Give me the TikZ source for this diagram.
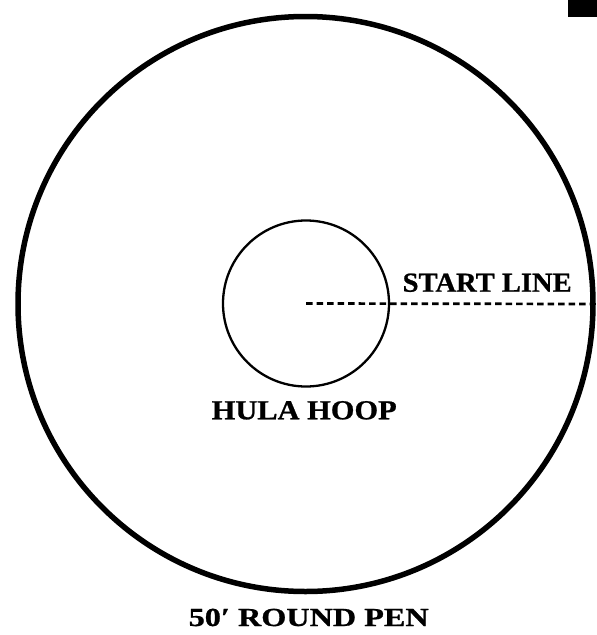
\documentclass[tikz,border=0pt]{standalone}
\usepackage{fontspec}
\setmainfont{Liberation Serif}[BoldFeatures={FakeBold=0.8}]
\begin{document}
\begin{tikzpicture}[x=1pt,y=-1pt,
  ring/.style={circle,draw=black,inner sep=0pt,outer sep=0pt},
  lbl/.style={inner sep=0pt,outer sep=0pt,anchor=base,font=\bfseries\fontsize{27.5}{30}\selectfont},
  startdash/.style={line width=2.7pt,dash pattern=on 6.5pt off 4pt}]
\useasboundingbox (0,0) rectangle (597,635);
\node[ring,line width=5.5pt,minimum size=575pt] (pen) at (305.5,304) {};
\node[ring,line width=2.3pt,minimum size=166pt] (hoop) at (306,303.5) {};
\node[fill=black,inner sep=0pt,outer sep=0pt,minimum width=29pt,minimum height=17pt,anchor=north east] (blk) at (597,0) {};
\coordinate (dashend) at (pen.east);
\draw[startdash] (hoop.center) -- (dashend);
\node[lbl] (start) at (487.2,291.7) {\resizebox{169pt}{\height}{START LINE}};
\node[lbl] (hula) at (304.2,419.3) {\resizebox{185pt}{\height}{HULA HOOP}};
\node[lbl,font=\bfseries\fontsize{26}{30}\selectfont] (title) at (308.7,626) {\resizebox{240pt}{\height}{50′ ROUND PEN}};
\end{tikzpicture}
\end{document}
